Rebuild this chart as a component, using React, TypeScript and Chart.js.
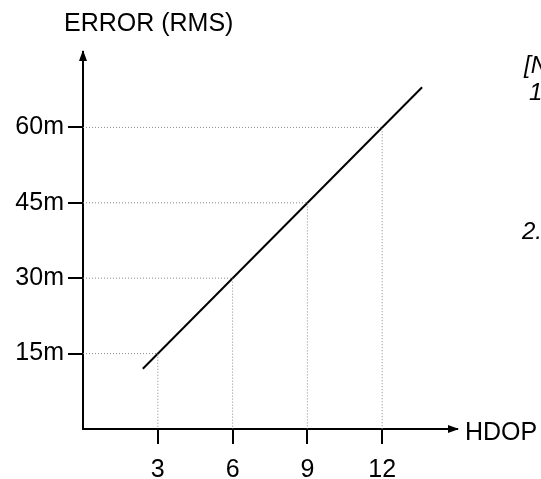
import React, { useEffect, useRef } from 'react';
import { Chart, registerables } from 'chart.js';

Chart.register(...registerables);

// ---- data ----
const hdopTicks = [3, 6, 9, 12];
const errorTicks = [15, 30, 45, 60];
const errorTickLabels = ['15m', '30m', '45m', '60m'];
const lineHdop = [2.4, 13.6];
const lineError = [12, 68];
const hdopMax = 15;
const errorMax = 75;
const yTitle = 'ERROR (RMS)';
const xTitle = 'HDOP';

const FONT = '"Liberation Sans", Arial, Helvetica, sans-serif';

const decorPlugin = {
  id: 'decor',
  afterDraw(chart: any) {
    const { ctx, chartArea } = chart;
    const { left, right, top, bottom } = chartArea;
    ctx.save();
    ctx.fillStyle = '#000';
    ctx.strokeStyle = '#000';
    // y arrow
    ctx.beginPath();
    ctx.moveTo(left, top - 2);
    ctx.lineTo(left - 4, top + 9);
    ctx.lineTo(left + 4, top + 9);
    ctx.closePath();
    ctx.fill();
    // x arrow
    ctx.beginPath();
    ctx.moveTo(right + 2, bottom);
    ctx.lineTo(right - 9, bottom - 4);
    ctx.lineTo(right - 9, bottom + 4);
    ctx.closePath();
    ctx.fill();
    // titles
    ctx.textBaseline = 'middle';
    ctx.textAlign = 'left';
    ctx.font = `25px ${FONT}`;
    ctx.fillText(yTitle, 64, 24);
    ctx.fillText(xTitle, right + 8, bottom + 4);
    // cut-off text at right edge
    ctx.font = `italic 24px ${FONT}`;
    ctx.fillText('[N', 524, 66);
    ctx.fillText('1', 529, 93);
    ctx.fillText('2.', 522, 232);
    ctx.restore();
  },
};

export default function App() {
  const ref = useRef<HTMLCanvasElement | null>(null);

  useEffect(() => {
    if (!ref.current) return;
    const guides = hdopTicks.map((h, i) => ({
      data: [
        { x: 0, y: errorTicks[i] },
        { x: h, y: errorTicks[i] },
        { x: h, y: 0 },
      ],
      showLine: true,
      borderColor: '#8a8a8a',
      borderWidth: 1,
      borderDash: [1, 2],
      pointRadius: 0,
      fill: false,
    }));
    const main = {
      data: lineHdop.map((x, i) => ({ x, y: lineError[i] })),
      showLine: true,
      borderColor: '#000',
      borderWidth: 2,
      pointRadius: 0,
      fill: false,
    };
    const chart = new Chart(ref.current, {
      type: 'scatter',
      data: { datasets: [...guides, main] as any },
      plugins: [decorPlugin],
      options: {
        animation: false,
        responsive: false,
        layout: { padding: { top: 52, right: 84, left: 0, bottom: 0 } },
        plugins: { legend: { display: false }, tooltip: { enabled: false } },
        scales: {
          x: {
            type: 'linear',
            min: 0,
            max: hdopMax,
            afterBuildTicks: (s: any) => {
              s.ticks = hdopTicks.map((v) => ({ value: v }));
            },
            afterFit: (s: any) => {
              s.height = 50;
            },
            ticks: {
              color: '#000',
              padding: 11,
              font: { family: FONT, size: 25 },
              maxRotation: 0,
              autoSkip: false,
            },
            grid: {
              drawOnChartArea: false,
              drawTicks: true,
              tickLength: 15,
              color: '#000',
              lineWidth: 2,
            },
            border: { display: true, color: '#000', width: 2 },
          },
          y: {
            type: 'linear',
            min: 0,
            max: errorMax,
            afterBuildTicks: (s: any) => {
              s.ticks = errorTicks.map((v) => ({ value: v }));
            },
            afterFit: (s: any) => {
              s.width = 83;
            },
            ticks: {
              color: '#000',
              padding: 4,
              font: { family: FONT, size: 25 },
              autoSkip: false,
              callback: (v: any) => {
                const i = errorTicks.indexOf(Number(v));
                return i >= 0 ? errorTickLabels[i] : '';
              },
            },
            grid: {
              drawOnChartArea: false,
              drawTicks: true,
              tickLength: 15,
              color: '#000',
              lineWidth: 2,
            },
            border: { display: true, color: '#000', width: 2 },
          },
        },
      } as any,
    });
    return () => chart.destroy();
  }, []);

  return (
    <div style={{ position: 'fixed', left: 0, top: 0, width: 541, height: 479, background: '#fff', overflow: 'hidden' }}>
      <canvas ref={ref} width={541} height={479} style={{ display: 'block' }} />
    </div>
  );
}
